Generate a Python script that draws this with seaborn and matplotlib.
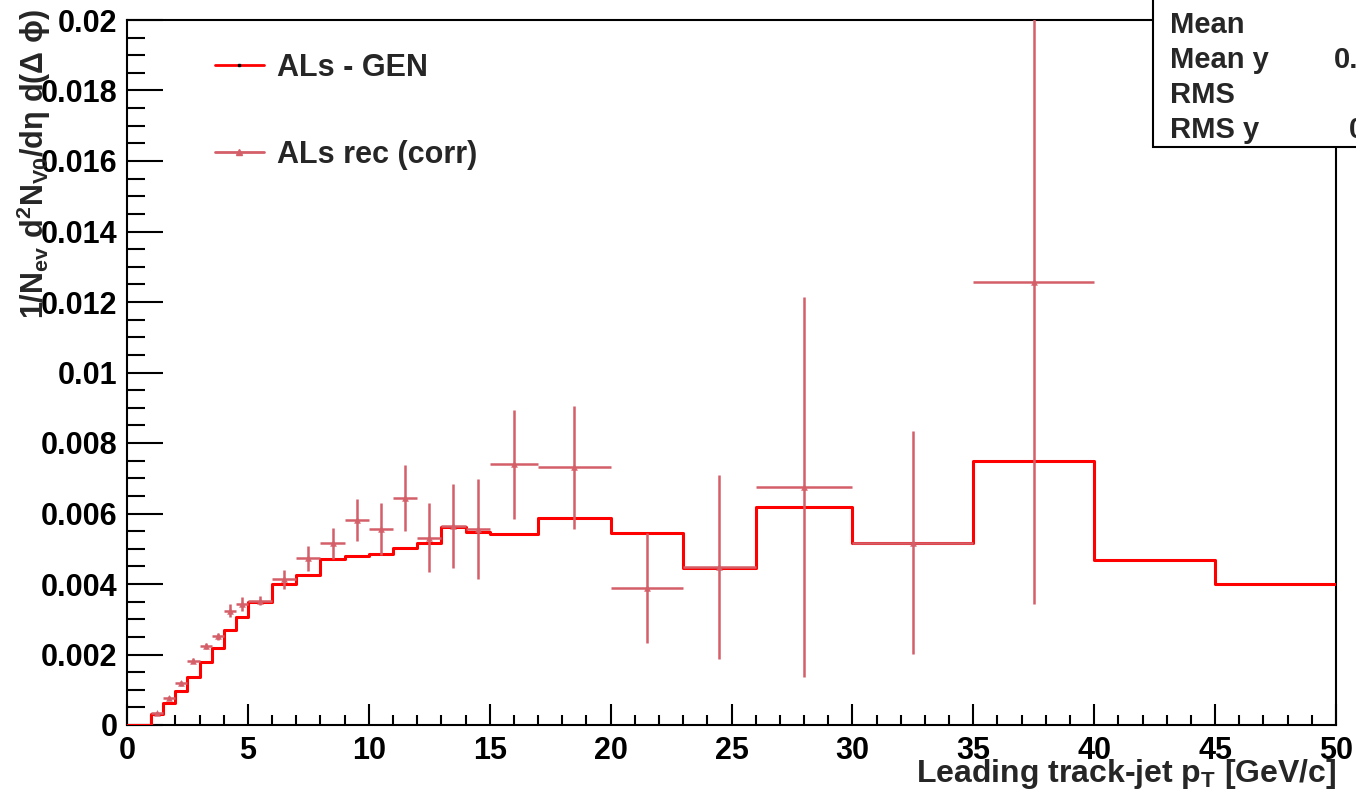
import numpy as np
import matplotlib
matplotlib.use('Agg')
import matplotlib.pyplot as plt
import seaborn as sns
from matplotlib.lines import Line2D
from matplotlib.patches import Rectangle
from matplotlib.ticker import MultipleLocator, FuncFormatter

# bin edges of the pT histogram (GeV/c)
edges = [0, 0.5, 1, 1.5, 2, 2.5, 3, 3.5, 4, 4.5, 5, 6, 7, 8, 9, 10, 11, 12,
         13, 14, 15, 17, 20, 23, 26, 30, 35, 40, 45, 50]

# generated (GEN) histogram contents, one per bin
gen_vals = [0, 0, 0.00031, 0.00062, 0.00096, 0.00136, 0.00179, 0.00219,
            0.0027, 0.00307, 0.00348, 0.00399, 0.00426, 0.0047, 0.0048,
            0.00486, 0.00501, 0.00515, 0.00563, 0.00548, 0.00542, 0.00586,
            0.00544, 0.00445, 0.00618, 0.00516, 0.00749, 0.00468, 0.0040]

# reconstructed (corrected) points, bins 1..40 GeV/c
rec_vals = [0.00033, 0.00076, 0.00118, 0.00182, 0.00225, 0.00252, 0.00324,
            0.00342, 0.00353, 0.00413, 0.00473, 0.00515, 0.00582, 0.00555,
            0.00644, 0.00531, 0.00565, 0.00556, 0.0074, 0.00731, 0.00389,
            0.00448, 0.00675, 0.00517, 0.01257]
rec_errs = [0.00003, 0.00005, 0.00006, 0.00007, 0.00009, 0.0001, 0.00019,
            0.0002, 0.00012, 0.00026, 0.00035, 0.00045, 0.0006, 0.00074,
            0.00093, 0.00098, 0.00119, 0.00142, 0.00155, 0.00174, 0.00155,
            0.0026, 0.0054, 0.00316, 0.00913]

stat_labels = ['Mean', 'Mean y', 'RMS', 'RMS y']

#%%
sns.set_theme(style='ticks')
plt.rcParams['font.family'] = ['Liberation Sans', 'DejaVu Sans']
plt.rcParams['font.weight'] = 'bold'
plt.rcParams['mathtext.fontset'] = 'custom'
plt.rcParams['mathtext.rm'] = 'Liberation Sans'
plt.rcParams['mathtext.bf'] = 'Liberation Sans:bold'
plt.rcParams['mathtext.it'] = 'Liberation Sans:bold'
plt.rcParams['mathtext.default'] = 'bf'

W, H = 1356, 799
fig = plt.figure(figsize=(W / 100, H / 100), dpi=100)
fig.patch.set_facecolor('white')
ax = fig.add_axes([127 / W, 1 - 725 / H, (1336 - 127) / W, (725 - 20) / H])
ax.set_facecolor('white')

gen_col = '#ff0000'
rec_col = '#d45f69'

edges_a = np.array(edges)
centers = 0.5 * (edges_a[:-1] + edges_a[1:])
halfw = 0.5 * (edges_a[1:] - edges_a[:-1])

# GEN histogram as a step outline
sns.histplot(x=centers, weights=gen_vals, bins=edges, element='step',
             fill=False, color=gen_col, linewidth=2.2, ax=ax, zorder=3)

# rec points with error bars
rec_x = centers[2:2 + len(rec_vals)]
rec_xerr = halfw[2:2 + len(rec_vals)]
ax.errorbar(rec_x, rec_vals, xerr=rec_xerr, yerr=rec_errs, fmt='none',
            ecolor=rec_col, elinewidth=1.8, capsize=0, zorder=4)
sns.scatterplot(x=rec_x, y=rec_vals, marker='^', s=18, color=rec_col,
                edgecolor=rec_col, ax=ax, zorder=5)

ax.set_xlim(0, 50)
ax.set_ylim(0, 0.02)
ax.set_xlabel('')
ax.set_ylabel('')

ax.xaxis.set_major_locator(MultipleLocator(5))
ax.xaxis.set_minor_locator(MultipleLocator(1))
ax.yaxis.set_major_locator(MultipleLocator(0.002))
ax.yaxis.set_minor_locator(MultipleLocator(0.0005))
ax.yaxis.set_major_formatter(FuncFormatter(lambda v, p: '0' if abs(v) < 1e-12 else '%g' % v))
ax.xaxis.set_major_formatter(FuncFormatter(lambda v, p: '%d' % round(v)))

ax.tick_params(axis='both', which='both', direction='in', width=1.5,
               colors='black', labelsize=22, top=False, right=False)
ax.tick_params(axis='y', which='major', length=26, pad=7)
ax.tick_params(axis='y', which='minor', length=13)
ax.tick_params(axis='x', which='major', length=15, pad=8)
ax.tick_params(axis='x', which='minor', length=7.5)
for lab in ax.get_xticklabels() + ax.get_yticklabels():
    lab.set_fontweight('bold')
for sp in ax.spines.values():
    sp.set_visible(True)
    sp.set_linewidth(1.5)
    sp.set_color('black')

# legend
handles = [Line2D([], [], color=gen_col, lw=2, marker='s', ms=2,
                  mfc='black', mec='black'),
           Line2D([], [], color=rec_col, lw=2, marker='^', ms=4,
                  mfc=rec_col, mec=rec_col)]
leg = ax.legend(handles, ['ALs - GEN', 'ALs rec (corr)'], loc='upper left',
                bbox_to_anchor=((215 - 127) / 1209, (725 - 53) / 705),
                frameon=False, fontsize=22, handlelength=1.6,
                handletextpad=0.42, labelspacing=1.85, borderpad=0,
                borderaxespad=0)
for t in leg.get_texts():
    t.set_fontweight('bold')

# axis titles
fig.text(1336 / W, (H - 782) / H, r'Leading track-jet p$_{T}$ [GeV/c]',
         ha='right', va='baseline', fontsize=23, fontweight='bold')
fig.text(34 / W, 1 - 9 / H,
         r'$1/N_{ev}\ d^{2}N_{V0}/d\mathrm{\eta}\ d(\mathrm{\Delta}\ \mathrm{\phi})$',
         rotation=90, ha='center', va='top', fontsize=22)

# stats box (cut by the canvas edge)
box = Rectangle((1153 / W, (H - 147) / H), 300 / W, 200 / H,
                transform=fig.transFigure, facecolor='white',
                edgecolor='black', lw=1.5, zorder=10)
fig.add_artist(box)
for i, s in enumerate(stat_labels):
    fig.text(1170 / W, (H - 25 - 35 * i) / H, s, ha='left', va='center',
             fontsize=21, fontweight='bold', zorder=11)
fig.text(1334 / W, (H - 60) / H, '0.005473', ha='left', va='center',
         fontsize=21, fontweight='bold', zorder=11)
fig.text(1349 / W, (H - 130) / H, '0.001822', ha='left', va='center',
         fontsize=21, fontweight='bold', zorder=11)

fig.savefig('out.png', dpi=100)
